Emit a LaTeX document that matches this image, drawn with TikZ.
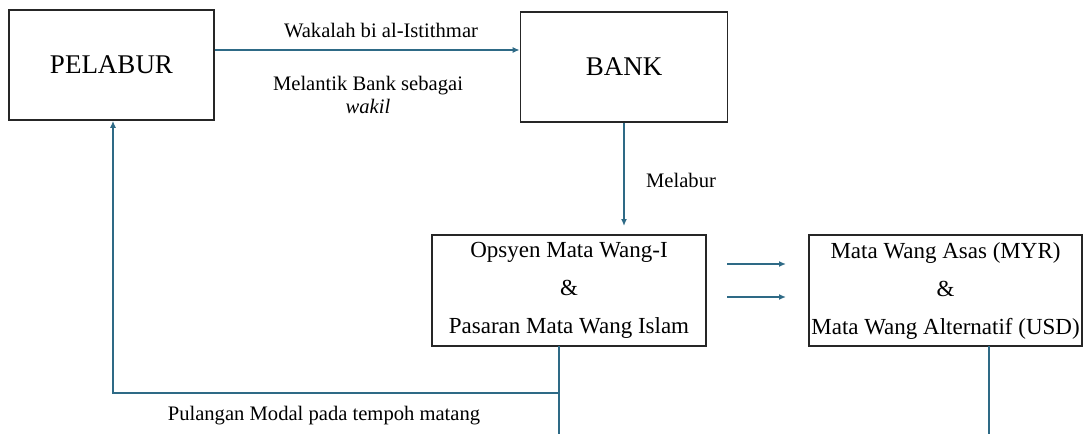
\documentclass[tikz,border=0pt]{standalone}
\usepackage{fontspec}
\setmainfont{Liberation Serif}
\usetikzlibrary{arrows.meta}
\definecolor{flow}{HTML}{2E6A86}
\begin{document}
\begin{tikzpicture}[x=1pt,y=-1pt,
  box/.style={draw=black!85,line width=1.6pt,inner sep=0pt},
  conn/.style={draw=flow,line width=1.5pt},
  arr/.style={conn,-{Latex[length=7pt,width=6pt]}},
  lbl/.style={font=\fontsize{20.6}{23}\selectfont,align=center,inner sep=0pt},
  boxtxt/.style={font=\fontsize{23}{38}\selectfont,align=center}]
\useasboundingbox (0,0) rectangle (1083,434);
\node[box,minimum width=205pt,minimum height=110pt,font=\fontsize{27}{30}\selectfont] (pel) at (111.5,65) {PELABUR};
\node[box,minimum width=207pt,minimum height=110pt,font=\fontsize{27}{30}\selectfont] (bank) at (624,67) {BANK};
\node[box,boxtxt,minimum width=274pt,minimum height=111pt] (ops) at (569,290.5) {Opsyen Mata Wang-I\\\&\\Pasaran Mata Wang Islam};
\node[box,boxtxt,minimum width=273pt,minimum height=111pt] (mw) at (945.5,290.5) {Mata Wang Asas (MYR)\\\&\\Mata Wang Alternatif (USD)};

\coordinate (ya) at (0,50);
\draw[arr] (pel.east |- ya) -- (bank.west |- ya);
\node[lbl] (wak) at (381,31) {Wakalah bi al-Istithmar};
\node[lbl] (mel) at (368,95) {Melantik Bank sebagai\\\textit{wakil}};

\coordinate (mtip) at (624,226);
\draw[arr] (bank.south) -- (mtip);
\node[lbl] (melabur) at (681,180) {Melabur};

\coordinate (s1) at (727,264);
\coordinate (e1) at (786,264);
\coordinate (s2) at (727,297);
\coordinate (e2) at (786,297);
\draw[arr] (s1) -- (e1);
\draw[arr] (s2) -- (e2);

\coordinate (ob) at (559,346);
\coordinate (oend) at (559,434);
\coordinate (oj) at (559,393);
\coordinate (pj) at (113,393);
\draw[conn] (ob) -- (oend);
\draw[arr] (oj) -- (pj) -- (pel.south -| pj);
\node[lbl] (pul) at (324,416) {Pulangan Modal pada tempoh matang};

\coordinate (mb) at (989,346);
\coordinate (mend) at (989,434);
\draw[conn] (mb) -- (mend);
\end{tikzpicture}
\end{document}
